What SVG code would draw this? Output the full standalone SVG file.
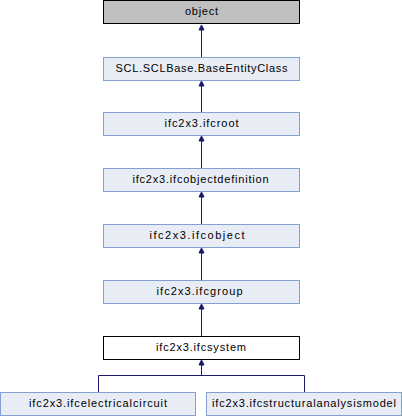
<svg xmlns="http://www.w3.org/2000/svg" width="402" height="416" viewBox="0 0 402 416">
<defs>
<style>
.n rect{fill:#e8ecf5;stroke:#84a0d0;stroke-width:1}
.n text{font-family:"Liberation Sans",Arial,sans-serif;font-size:11px;text-anchor:middle;fill:#000}
.e{stroke:#191970;stroke-width:1;fill:none}
.a{fill:#191970;stroke:#191970;stroke-width:1}
</style>
</defs>
<rect width="402" height="416" fill="#fff"/>
<g id="connectors">
<path class="e" d="M201.5,57 V25"/>
<path class="a" d="M201.5,25 L199,30 L204,30 z"/>
<path class="e" d="M201.5,112 V82"/>
<path class="a" d="M201.5,81 L199,86 L204,86 z"/>
<path class="e" d="M201.5,168 V137"/>
<path class="a" d="M201.5,136 L199,141 L204,141 z"/>
<path class="e" d="M201.5,224 V193"/>
<path class="a" d="M201.5,192 L199,197 L204,197 z"/>
<path class="e" d="M201.5,280 V249"/>
<path class="a" d="M201.5,248 L199,253 L204,253 z"/>
<path class="e" d="M201.5,336 V305"/>
<path class="a" d="M201.5,304 L199,309 L204,309 z"/>
<path class="e" d="M201.5,375.5 V361"/>
<path class="a" d="M201.5,360 L199,365 L204,365 z"/>
<path class="e" d="M98.5,392 V375.5 H304.5 V392"/>
</g>
<g id="object" class="n"><rect x="103.5" y="0.5" width="196" height="23" style="fill:#bfbfbf;stroke:#000"/><text x="201.5" y="15" textLength="33" lengthAdjust="spacing">object</text></g>
<g id="BaseEntityClass" class="n"><rect x="103.5" y="57.5" width="196" height="23"/><text x="201.5" y="72" textLength="172" lengthAdjust="spacing">SCL.SCLBase.BaseEntityClass</text></g>
<g id="ifcroot" class="n"><rect x="103.5" y="112.5" width="196" height="23"/><text x="201.5" y="127" textLength="74" lengthAdjust="spacing">ifc2x3.ifcroot</text></g>
<g id="ifcobjectdefinition" class="n"><rect x="103.5" y="168.5" width="196" height="23"/><text x="200.5" y="183" textLength="136" lengthAdjust="spacing">ifc2x3.ifcobjectdefinition</text></g>
<g id="ifcobject" class="n"><rect x="103.5" y="224.5" width="196" height="23"/><text x="197" y="239" textLength="95" lengthAdjust="spacing">ifc2x3.ifcobject</text></g>
<g id="ifcgroup" class="n"><rect x="103.5" y="280.5" width="196" height="23"/><text x="199.5" y="295" textLength="86" lengthAdjust="spacing">ifc2x3.ifcgroup</text></g>
<g id="ifcsystem" class="n"><rect x="103.5" y="336.5" width="196" height="23" style="fill:#fff;stroke:#000"/><text x="201" y="351" textLength="90" lengthAdjust="spacing">ifc2x3.ifcsystem</text></g>
<g id="ifcelectricalcircuit" class="n"><rect x="0.5" y="392.5" width="195" height="23"/><text x="98" y="407" textLength="138" lengthAdjust="spacing">ifc2x3.ifcelectricalcircuit</text></g>
<g id="ifcstructuralanalysismodel" class="n"><rect x="206.5" y="392.5" width="195" height="23"/><text x="304" y="407" textLength="184" lengthAdjust="spacing">ifc2x3.ifcstructuralanalysismodel</text></g>
</svg>
